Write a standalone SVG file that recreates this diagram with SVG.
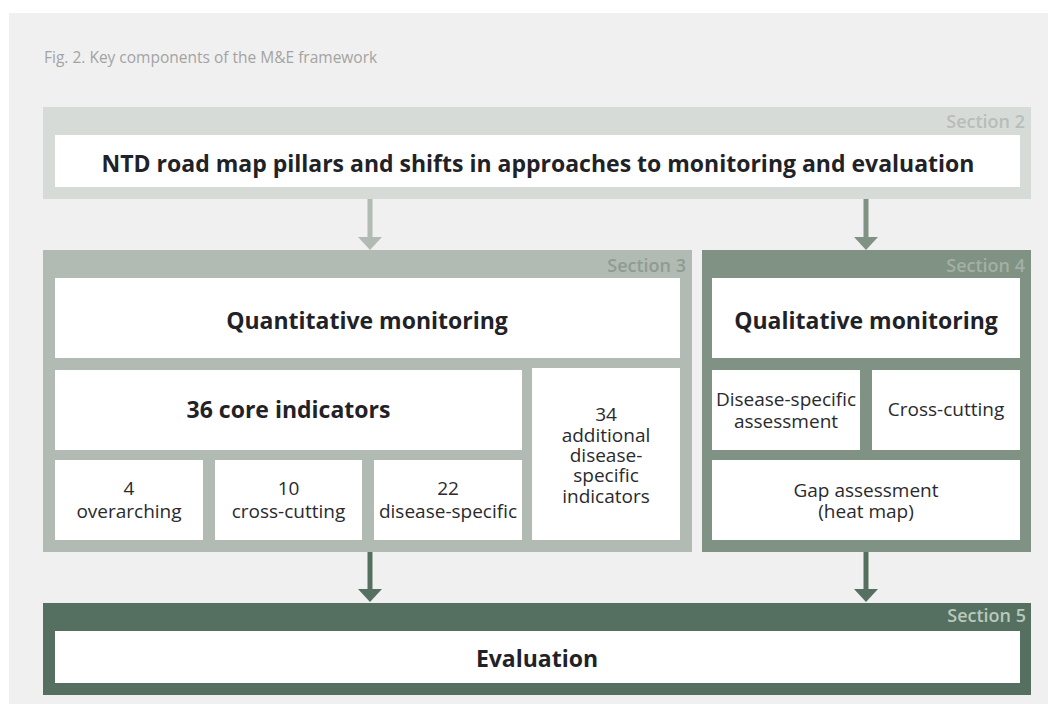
<svg xmlns="http://www.w3.org/2000/svg" width="1048" height="704" viewBox="0 0 1048 704">
  <style>
    .bg { fill: #f1f0f0; }
    .s2 { fill: #d6dbd7; }
    .s3 { fill: #b1bbb3; }
    .s4 { fill: #7f9283; }
    .s5 { fill: #557060; }
    .box { fill: #ffffff; }
    .title { font-family: "Open Sans", "Noto Sans", sans-serif; font-size: 15.5px; fill: #a3a3a3; }
    .big { font-family: "Open Sans", "Noto Sans", sans-serif; font-size: 23px; font-weight: 700; fill: #1f2227; text-anchor: middle; }
    .small { font-family: "Open Sans", "Noto Sans", sans-serif; font-size: 19px; fill: #2a2a2e; text-anchor: middle; }
    .sec { font-family: "Open Sans", "Noto Sans", sans-serif; font-size: 18px; font-weight: 600; text-anchor: end; }
    .l2 { fill: #b8bdb9; }
    .l3 { fill: #8f9b92; }
    .l4 { fill: #a3b0a5; }
    .l5 { fill: #b9c9bc; }
    .a3 { stroke: #b1bbb3; }
    .a4 { stroke: #7f9283; }
    .a5 { stroke: #557060; }
    .shaft { stroke-width: 5; fill: none; }
  </style>

  <rect class="bg" x="9" y="13" width="1039" height="691"/>
  <text class="title" x="44" y="63">Fig. 2. Key components of the M&amp;E framework</text>

  <g id="section2">
    <rect class="s2" x="43" y="107" width="988" height="92"/>
    <text class="sec l2" x="1025" y="128">Section 2</text>
    <g id="roadmap">
      <rect class="box" x="55" y="135" width="965" height="52"/>
      <text class="big" x="538" y="172">NTD road map pillars and shifts in approaches to monitoring and evaluation</text>
    </g>
  </g>

  <g id="section3">
    <rect class="s3" x="43" y="250" width="649" height="302"/>
    <text class="sec l3" x="686" y="272">Section 3</text>
    <g id="quantitative">
      <rect class="box" x="55" y="278" width="625" height="80"/>
      <text class="big" x="367" y="329">Quantitative monitoring</text>
    </g>
    <g id="core36">
      <rect class="box" x="55" y="370" width="467" height="80"/>
      <text class="big" x="288.5" y="418">36 core indicators</text>
    </g>
    <g id="additional34">
      <rect class="box" x="532" y="368" width="148" height="172"/>
      <text class="small" x="606" y="421">34</text>
      <text class="small" x="606" y="442">additional</text>
      <text class="small" x="606" y="462">disease-</text>
      <text class="small" x="606" y="482">specific</text>
      <text class="small" x="606" y="503">indicators</text>
    </g>
    <g id="overarching">
      <rect class="box" x="55" y="460" width="148" height="80"/>
      <text class="small" x="129" y="495">4</text>
      <text class="small" x="129" y="518">overarching</text>
    </g>
    <g id="crosscutting10">
      <rect class="box" x="215" y="460" width="147" height="80"/>
      <text class="small" x="288.5" y="495">10</text>
      <text class="small" x="288.5" y="518">cross-cutting</text>
    </g>
    <g id="disease22">
      <rect class="box" x="374" y="460" width="148" height="80"/>
      <text class="small" x="448" y="495">22</text>
      <text class="small" x="448" y="518">disease-specific</text>
    </g>
  </g>

  <g id="section4">
    <rect class="s4" x="702" y="250" width="329" height="302"/>
    <text class="sec l4" x="1025" y="272">Section 4</text>
    <g id="qualitative">
      <rect class="box" x="712" y="278" width="308" height="80"/>
      <text class="big" x="866" y="329">Qualitative monitoring</text>
    </g>
    <g id="diseaseassessment">
      <rect class="box" x="712" y="370" width="148" height="80"/>
      <text class="small" x="786" y="406">Disease-specific</text>
      <text class="small" x="786" y="428">assessment</text>
    </g>
    <g id="crosscutting">
      <rect class="box" x="872" y="370" width="148" height="80"/>
      <text class="small" x="946" y="416">Cross-cutting</text>
    </g>
    <g id="gap">
      <rect class="box" x="712" y="460" width="308" height="80"/>
      <text class="small" x="866" y="497">Gap assessment</text>
      <text class="small" x="866" y="518">(heat map)</text>
    </g>
  </g>

  <g id="section5">
    <rect class="s5" x="43" y="603" width="988" height="92"/>
    <text class="sec l5" x="1026" y="622">Section 5</text>
    <g id="evaluation">
      <rect class="box" x="55" y="631" width="965" height="52"/>
      <text class="big" x="537" y="667">Evaluation</text>
    </g>
  </g>

  <g id="connectors">
    <line class="shaft a3" x1="370" y1="199" x2="370" y2="239"/>
    <polygon points="358,237 382,237 370,250" fill="#b1bbb3"/>
    <line class="shaft a4" x1="866" y1="199" x2="866" y2="239"/>
    <polygon points="854,237 878,237 866,250" fill="#7f9283"/>
    <line class="shaft a5" x1="370" y1="552" x2="370" y2="591"/>
    <polygon points="358,589 382,589 370,602" fill="#557060"/>
    <line class="shaft a5" x1="866" y1="552" x2="866" y2="591"/>
    <polygon points="854,589 878,589 866,602" fill="#557060"/>
  </g>
</svg>
